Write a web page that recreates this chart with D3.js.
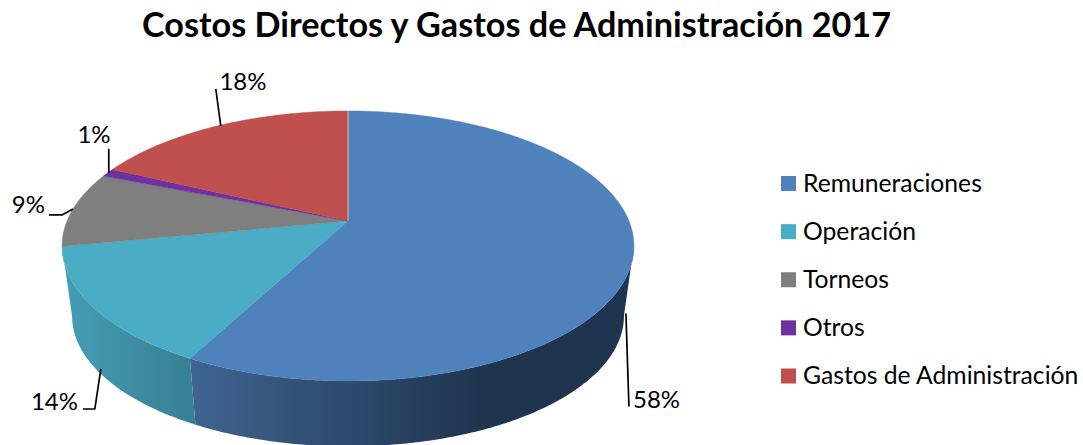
<!DOCTYPE html>
<html><head><meta charset="utf-8">
<script src="https://cdn.jsdelivr.net/npm/d3@7/dist/d3.min.js"></script>
<style>html,body{margin:0;padding:0;background:#fff;overflow:hidden}svg{display:block}text{font-family:Lato,"Open Sans",sans-serif;fill:#000}</style>
</head><body><svg id="c" width="1083" height="445"></svg>
<script>
const categories = ["Remuneraciones","Operación","Torneos","Otros","Gastos de Administración"];
const values = [57.8,14.2,9,1,18];
const labels = ["58%","14%","9%","1%","18%"];
const colors = ["#4f81bd","#4bacc6","#7f7f7f","#7030a0","#c0504d"];
const title = "Costos Directos y Gastos de Administración 2017";

const svg=d3.select("#c");
const geom={cx:348,cy:221,R:281,k:130.4,p:0.185,cyb:292,s:0.965};
function topPt(a){const u=Math.sin(a),v=Math.cos(a),w=1+geom.p*v;return [geom.cx+geom.R*u/w,geom.cy-geom.k*v/w];}
function botPt(a){const u=Math.sin(a),v=Math.cos(a),w=1+geom.p*v;return [geom.cx+geom.s*geom.R*u/w,geom.cyb-geom.s*geom.k*v/w];}
function arcPts(f,a0,a1){const n=Math.max(2,Math.ceil(Math.abs(a1-a0)/0.01));return d3.range(n+1).map(i=>f(a0+(a1-a0)*i/n));}
const line=d3.line();
const arcs=d3.pie().sort(null).value(d=>d)(values);

const tangent=Math.acos(-geom.p); // silhouette angles of the rim
const wallFrom=tangent, wallTo=2*Math.PI-tangent;
const defs=svg.append("defs");
const wallShade=[
 {x1:192,x2:480,stops:["#3f6390","#1f344f"]},
 {x1:64,x2:196,stops:["#469db5","#367f94"]}
];
wallShade.forEach((g,i)=>{
  const lg=defs.append("linearGradient").attr("id","wall"+i).attr("gradientUnits","userSpaceOnUse")
    .attr("x1",g.x1).attr("x2",g.x2).attr("y1",0).attr("y2",0);
  lg.append("stop").attr("offset",0).attr("stop-color",g.stops[0]);
  lg.append("stop").attr("offset",1).attr("stop-color",g.stops[1]);
});

const g=svg.append("g");
arcs.forEach((d,i)=>{
  const a0=Math.max(d.startAngle,wallFrom),a1=Math.min(d.endAngle,wallTo);
  if(a1<=a0||i>1)return;
  const pts=arcPts(topPt,a0,a1).concat(arcPts(botPt,a1,a0));
  g.append("path").attr("d",line(pts)+"Z").attr("fill","url(#wall"+i+")");
});
arcs.forEach((d,i)=>{
  const pts=[[geom.cx,geom.cy]].concat(arcPts(topPt,d.startAngle,d.endAngle));
  g.append("path").attr("d",line(pts)+"Z").attr("fill",colors[i]).attr("stroke",colors[i]).attr("stroke-width",0.4);
});
g.append("path").attr("d",line([[geom.cx,geom.cy],topPt(0)])).attr("stroke","#fff").attr("stroke-opacity",.6).attr("stroke-width",1);

// leader lines and labels
const leaders=[
 {wall:0.85,nudge:1,path:[[3,93]],tx:633,ty:408,a:"start"},
 {wall:0.9,nudge:-1,path:[[-6,40],[-18,40]],tx:78,ty:410,a:"end"},
 {wall:null,nudge:0,path:[[-11,6],[-24,6]],tx:45,ty:213,a:"end"},
 {wall:null,nudge:1,path:[[0,-24]],tx:94,ty:143,a:"middle"},
 {wall:null,nudge:3,path:[[-5,-37]],tx:243,ty:90,a:"middle"}
];
arcs.forEach((d,i)=>{
  const m=(d.startAngle+d.endAngle)/2,L=leaders[i];
  const t=topPt(m),b=botPt(m);
  const A=L.wall==null?t.slice():[t[0]+(b[0]-t[0])*L.wall,t[1]+(b[1]-t[1])*L.wall];
  A[0]+=L.nudge;
  const pts=[A].concat(L.path.map(o=>[A[0]+o[0],A[1]+o[1]]));
  svg.append("path").attr("d",line(pts)).attr("fill","none").attr("stroke","#000").attr("stroke-width",1.7);
  svg.append("text").attr("x",L.tx).attr("y",L.ty).attr("text-anchor",L.a).attr("font-size",24).text(labels[i]);
});

svg.append("text").attr("x",516.5).attr("y",37).attr("text-anchor","middle").attr("font-size",34.2).attr("font-weight",700).text(title);

const ly=d3.scalePoint().domain(categories).range([183.5,376]);
const lg=svg.append("g");
categories.forEach((c,i)=>{
  lg.append("rect").attr("x",781).attr("y",ly(c)-7.5).attr("width",15).attr("height",15).attr("fill",colors[i]);
  lg.append("text").attr("x",803).attr("y",ly(c)+8).attr("font-size",24.7).text(c);
});
</script></body></html>
